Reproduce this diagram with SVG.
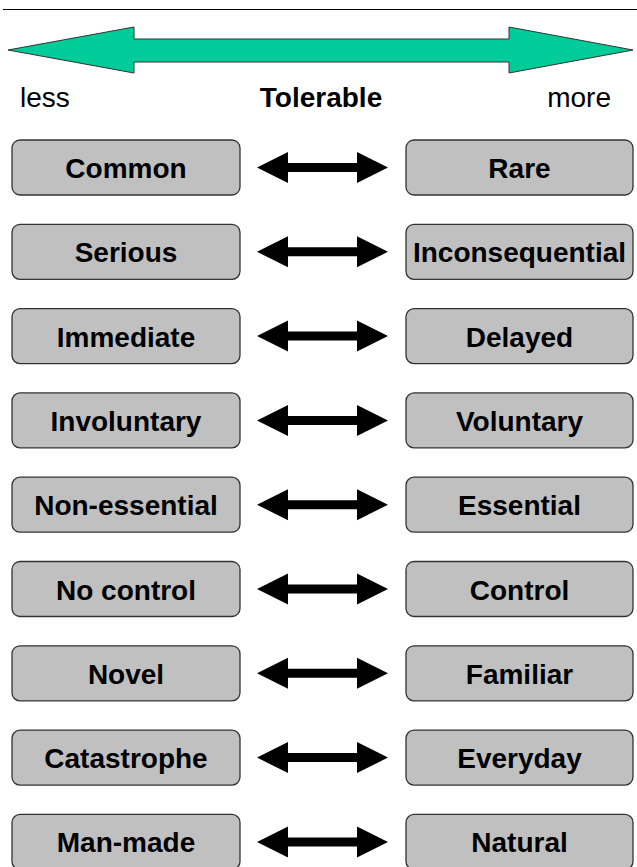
<svg xmlns="http://www.w3.org/2000/svg" width="637" height="867" viewBox="0 0 637 867">
<style>
.box{fill:#c0c0c0;stroke:#333;stroke-width:1.3}
.lbl{font-family:"Liberation Sans",Arial,sans-serif;font-weight:bold;font-size:28px;fill:#000;text-anchor:middle}
.hdr{font-family:"Liberation Sans",Arial,sans-serif;font-size:28px;fill:#000}
.dbl{fill:#000}
</style>
<defs>
<path id="dbl" class="dbl" d="M257,0 L288,-15.5 L288,-4.5 L357,-4.5 L357,-15.5 L388,0 L357,15.5 L357,4.5 L288,4.5 L288,15.5 Z"/>
</defs>
<rect width="637" height="867" fill="#fff"/>
<line x1="3" y1="9.5" x2="637" y2="9.5" stroke="#000" stroke-width="1.2"/>
<g id="tolerable-arrow">
<path d="M8,50 L134,27 L134,39 L509,39 L509,27 L633,50 L509,73 L509,62 L134,62 L134,73 Z" fill="#00cc99" stroke="#333" stroke-width="1"/>
<text class="hdr" x="20" y="107">less</text>
<text class="hdr" x="321" y="107" text-anchor="middle" font-weight="bold">Tolerable</text>
<text class="hdr" x="611" y="107" text-anchor="end">more</text>
</g>
<g id="connectors">
<use href="#dbl" y="167.5"/>
<use href="#dbl" y="251.8"/>
<use href="#dbl" y="336.1"/>
<use href="#dbl" y="420.4"/>
<use href="#dbl" y="504.7"/>
<use href="#dbl" y="589"/>
<use href="#dbl" y="673.3"/>
<use href="#dbl" y="757.6"/>
<use href="#dbl" y="841.9"/>
</g>
<g id="n-common"><rect class="box" x="12" y="140" width="228" height="55" rx="8"/><text class="lbl" x="126" y="178">Common</text></g>
<g id="n-rare"><rect class="box" x="406" y="140" width="227" height="55" rx="8"/><text class="lbl" x="519.5" y="178">Rare</text></g>
<g id="n-serious"><rect class="box" x="12" y="224.3" width="228" height="55" rx="8"/><text class="lbl" x="126" y="262.3">Serious</text></g>
<g id="n-inconsequential"><rect class="box" x="406" y="224.3" width="227" height="55" rx="8"/><text class="lbl" x="519.5" y="262.3">Inconsequential</text></g>
<g id="n-immediate"><rect class="box" x="12" y="308.6" width="228" height="55" rx="8"/><text class="lbl" x="126" y="346.6">Immediate</text></g>
<g id="n-delayed"><rect class="box" x="406" y="308.6" width="227" height="55" rx="8"/><text class="lbl" x="519.5" y="346.6">Delayed</text></g>
<g id="n-involuntary"><rect class="box" x="12" y="392.9" width="228" height="55" rx="8"/><text class="lbl" x="126" y="430.9">Involuntary</text></g>
<g id="n-voluntary"><rect class="box" x="406" y="392.9" width="227" height="55" rx="8"/><text class="lbl" x="519.5" y="430.9">Voluntary</text></g>
<g id="n-nonessential"><rect class="box" x="12" y="477.2" width="228" height="55" rx="8"/><text class="lbl" x="126" y="515.2">Non-essential</text></g>
<g id="n-essential"><rect class="box" x="406" y="477.2" width="227" height="55" rx="8"/><text class="lbl" x="519.5" y="515.2">Essential</text></g>
<g id="n-nocontrol"><rect class="box" x="12" y="561.5" width="228" height="55" rx="8"/><text class="lbl" x="126" y="599.5">No control</text></g>
<g id="n-control"><rect class="box" x="406" y="561.5" width="227" height="55" rx="8"/><text class="lbl" x="519.5" y="599.5">Control</text></g>
<g id="n-novel"><rect class="box" x="12" y="645.8" width="228" height="55" rx="8"/><text class="lbl" x="126" y="683.8">Novel</text></g>
<g id="n-familiar"><rect class="box" x="406" y="645.8" width="227" height="55" rx="8"/><text class="lbl" x="519.5" y="683.8">Familiar</text></g>
<g id="n-catastrophe"><rect class="box" x="12" y="730.1" width="228" height="55" rx="8"/><text class="lbl" x="126" y="768.1">Catastrophe</text></g>
<g id="n-everyday"><rect class="box" x="406" y="730.1" width="227" height="55" rx="8"/><text class="lbl" x="519.5" y="768.1">Everyday</text></g>
<g id="n-manmade"><rect class="box" x="12" y="814.4" width="228" height="55" rx="8"/><text class="lbl" x="126" y="852.4">Man-made</text></g>
<g id="n-natural"><rect class="box" x="406" y="814.4" width="227" height="55" rx="8"/><text class="lbl" x="519.5" y="852.4">Natural</text></g>
</svg>
